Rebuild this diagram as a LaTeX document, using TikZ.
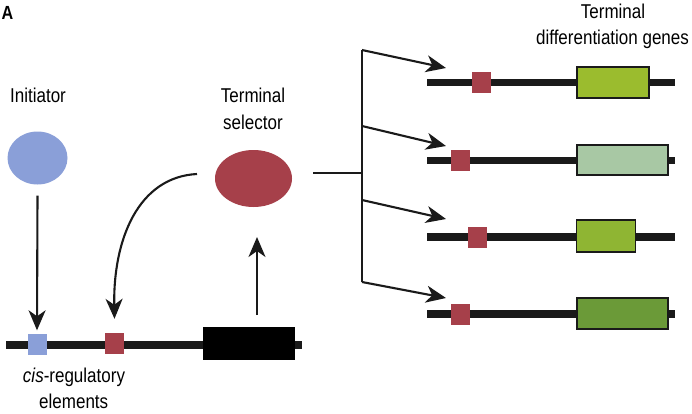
\documentclass[tikz,border=0pt]{standalone}
\usepackage{fontspec}
\setmainfont[FakeStretch=0.85]{Liberation Sans}
\usetikzlibrary{arrows.meta,shapes.geometric}
\definecolor{ablue}{HTML}{8A9FD8}
\definecolor{ared}{HTML}{A6404A}
\definecolor{gA}{HTML}{9BBC2E}
\definecolor{gB}{HTML}{A8C8A4}
\definecolor{gC}{HTML}{8FB533}
\definecolor{gD}{HTML}{6B9A38}
\definecolor{ink}{HTML}{1A1A1A}
\begin{document}
\begin{tikzpicture}[x=1pt,y=-1pt,
  lbl/.style={font=\fontsize{20}{24}\selectfont, inner sep=0, anchor=base},
  sq/.style={fill=ared, minimum width=19pt, minimum height=21pt, inner sep=0},
  genebox/.style={draw=ink, line width=1.6pt, inner sep=0},
  dna/.style={draw=ink, line width=7.5pt},
  arr/.style={draw=ink, line width=2.1pt, -{Stealth[length=20pt,width=17pt,inset=6pt]}},
  plain/.style={draw=ink, line width=2.1pt}]
\useasboundingbox (0,0) rectangle (692,413);

% panel letter
\node[font=\fontsize{19}{22}\selectfont\bfseries, inner sep=0, anchor=base west] (letter) at (1.5,19.5) {A};

% labels
\node[lbl] (initlbl) at (38,102) {Initiator};
\node[lbl] (sellbl1) at (253,102) {Terminal};
\node[lbl] (sellbl2) at (253,129) {selector};
\node[lbl] (tdg1) at (613,18.5) {Terminal};
\node[lbl] (tdg2) at (612.5,44) {differentiation genes};
\node[lbl] (cis1) at (74,382) {\itshape cis\upshape-regulatory};
\node[lbl] (cis2) at (73.7,408.5) {elements};

% initiator and selector
\node[ellipse, fill=ablue, minimum width=60pt, minimum height=53pt, inner sep=0] (init) at (37.5,158) {};
\node[ellipse, fill=ared, minimum width=77pt, minimum height=57pt, inner sep=0] (sel) at (253.5,178.5) {};

% bottom DNA
\coordinate (b0) at (6,345);
\coordinate (b1) at (302,345);
\draw[dna, line width=8pt] (b0) -- (b1);
\node[fill=ablue, minimum width=19pt, minimum height=21pt, inner sep=0] (bsq) at (37,344) {};
\node[sq] (rsq) at (114.5,343.5) {};
\node[fill=black, minimum width=92pt, minimum height=33pt, inner sep=0] (gene0) at (249,343.5) {};

% vertical arrows
\draw[arr] (init.south) ++(0,11) coordinate (a0) -- ([yshift=3pt]bsq.north);
\coordinate (u0) at (257,315);
\coordinate (u1) at (257,237);
\draw[arr] (u0) -- (u1);
% curved arrow
\coordinate (c0) at (197,174);
\draw[arr] (c0) .. controls (138,177) and (113,240) .. ([yshift=14pt]rsq.north);

% branching
\coordinate (s0) at (313,173);
\coordinate (br) at (362,173);
\coordinate (bt) at (362,50);
\coordinate (bb) at (362,282);
\coordinate (k2) at (362,126);
\coordinate (k3) at (362,200);
\draw[plain] (s0) -- (br);
\draw[plain] (bt) -- (bb);
\coordinate (t1) at (446,68);
\coordinate (t2) at (446,146);
\coordinate (t3) at (446,219);
\coordinate (t4) at (446,298);
\draw[arr] (bt) -- (t1);
\draw[arr] (k2) -- (t2);
\draw[arr] (k3) -- (t3);
\draw[arr] (bb) -- (t4);

% target genes
\coordinate (l1a) at (427,82.5); \coordinate (l1b) at (675,82.5);
\coordinate (l2a) at (427,160.5); \coordinate (l2b) at (675,160.5);
\coordinate (l3a) at (427,237); \coordinate (l3b) at (675,237);
\coordinate (l4a) at (427,314); \coordinate (l4b) at (675,314);
\draw[dna] (l1a) -- (l1b);
\draw[dna] (l2a) -- (l2b);
\draw[dna] (l3a) -- (l3b);
\draw[dna] (l4a) -- (l4b);
\node[sq] (r1) at (481,82) {};
\node[sq] (r2) at (460.5,160.5) {};
\node[sq] (r3) at (477,237.5) {};
\node[sq] (r4) at (460.5,314) {};
\node[genebox, fill=gA, minimum width=72pt, minimum height=31pt] (g1) at (612.75,82.5) {};
\node[genebox, fill=gB, minimum width=91pt, minimum height=30pt] (g2) at (622.25,160) {};
\node[genebox, fill=gC, minimum width=59pt, minimum height=31.5pt] (g3) at (606,236) {};
\node[genebox, fill=gD, minimum width=91pt, minimum height=31pt] (g4) at (622.25,313.5) {};
\end{tikzpicture}
\end{document}
